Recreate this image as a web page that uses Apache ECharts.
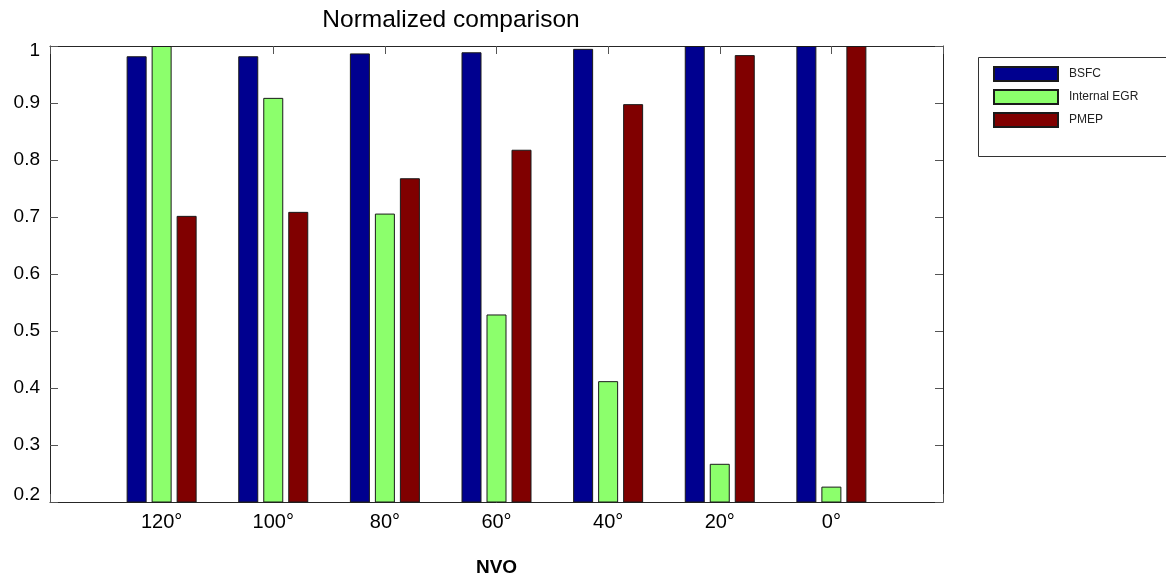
<!DOCTYPE html>
<html>
<head>
<meta charset="utf-8">
<script src="https://cdn.jsdelivr.net/npm/echarts@6/dist/echarts.min.js"></script>
<style>
  html, body { margin: 0; padding: 0; background: #fff; }
  #chart { width: 1166px; height: 581px; }
</style>
</head>
<body>
<div id="chart"></div>
<script>
// NVO angle groups
const categories = ['120°', '100°', '80°', '60°', '40°', '20°', '0°'];
// normalized values per group
const bsfc        = [0.982, 0.982, 0.987, 0.989, 0.995, 1.000, 1.000];
const internalEGR = [1.000, 0.909, 0.706, 0.529, 0.412, 0.267, 0.227];
const pmep        = [0.702, 0.709, 0.768, 0.818, 0.898, 0.984, 1.000];
const yTicks = [0.2, 0.3, 0.4, 0.5, 0.6, 0.7, 0.8, 0.9, 1];

// one empty slot on each side so the groups sit inside the frame
const xData = [''].concat(categories, ['']);
const pad = arr => [null].concat(arr, [null]);

const font = 'Liberation Sans, Arial, sans-serif';
const frame = '#262626';

const chart = echarts.init(document.getElementById('chart'), null, { renderer: 'canvas' });

function barSeries(name, data, color) {
  return {
    name: name,
    type: 'bar',
    data: pad(data),
    barWidth: 20,
    barGap: '25%',
    itemStyle: { color: color, borderColor: '#1a1a1a', borderWidth: 1 },
    emphasis: { disabled: true }
  };
}

chart.setOption({
  animation: false,
  backgroundColor: '#fff',
  title: {
    text: 'Normalized comparison',
    left: 446, top: 3, textAlign: 'center',
    textStyle: { fontFamily: font, fontSize: 24.5, fontWeight: 'normal', color: '#000' }
  },
  grid: { left: 50, top: 46, width: 893, height: 456, containLabel: false, outerBoundsMode: 'none' },
  graphic: [{
    type: 'rect', z: 0,
    shape: { x: 978.5, y: 57.5, width: 200, height: 99 },
    style: { fill: '#fff', stroke: '#333', lineWidth: 1 }
  }],
  legend: {
    orient: 'vertical', left: 993, top: 66, z: 10, padding: 0,
    itemWidth: 64, itemHeight: 14, itemGap: 7,
    icon: 'rect',
    textStyle: { fontFamily: font, fontSize: 12, lineHeight: 14, color: '#222', padding: [0, 0, 0, 6] },
    data: ['BSFC', 'Internal EGR', 'PMEP']
  },
  xAxis: [{
    type: 'category', data: xData, boundaryGap: false, position: 'bottom',
    name: 'NVO', nameLocation: 'middle', nameGap: 56,
    nameTextStyle: { fontFamily: font, fontSize: 19, fontWeight: 'bold', color: '#000' },
    axisLine: { lineStyle: { color: frame, width: 1 } },
    axisTick: { show: true, inside: true, length: 8, lineStyle: { color: '#555' } },
    axisLabel: { margin: 10, fontFamily: font, fontSize: 20, color: '#000' },
    splitLine: { show: false }
  }, {
    type: 'category', data: xData, boundaryGap: false, position: 'top',
    axisLine: { lineStyle: { color: frame, width: 1 } },
    axisTick: { show: true, inside: true, length: 8, lineStyle: { color: '#555' } },
    axisLabel: { show: false },
    splitLine: { show: false }
  }],
  yAxis: [{
    type: 'value', min: yTicks[0], max: yTicks[yTicks.length - 1], interval: 0.1,
    position: 'left',
    axisLine: { show: true, lineStyle: { color: frame, width: 1 } },
    axisTick: { show: true, inside: true, length: 8, lineStyle: { color: '#555' } },
    axisLabel: {
      margin: 10, fontFamily: font, fontSize: 19, color: '#000',
      formatter: function (v) {
        const s = String(Math.round(v * 10) / 10);
        if (Math.abs(v - yTicks[0]) < 1e-9) return '{lo|' + s + '}';
        if (Math.abs(v - yTicks[yTicks.length - 1]) < 1e-9) return '{hi|' + s + '}';
        return s;
      },
      rich: {
        lo: { fontFamily: font, fontSize: 19, color: '#000', padding: [0, 0, 14, 0] },
        hi: { fontFamily: font, fontSize: 19, color: '#000', padding: [10, 0, 0, 0] }
      }
    },
    splitLine: { show: false }
  }, {
    type: 'value', min: yTicks[0], max: yTicks[yTicks.length - 1], interval: 0.1,
    position: 'right',
    axisLine: { show: true, lineStyle: { color: frame, width: 1 } },
    axisTick: { show: true, inside: true, length: 8, lineStyle: { color: '#555' } },
    axisLabel: { show: false },
    splitLine: { show: false }
  }],
  series: [
    barSeries('BSFC', bsfc, '#00008f'),
    barSeries('Internal EGR', internalEGR, '#8cff6c'),
    barSeries('PMEP', pmep, '#800000')
  ]
});
</script>
</body>
</html>
